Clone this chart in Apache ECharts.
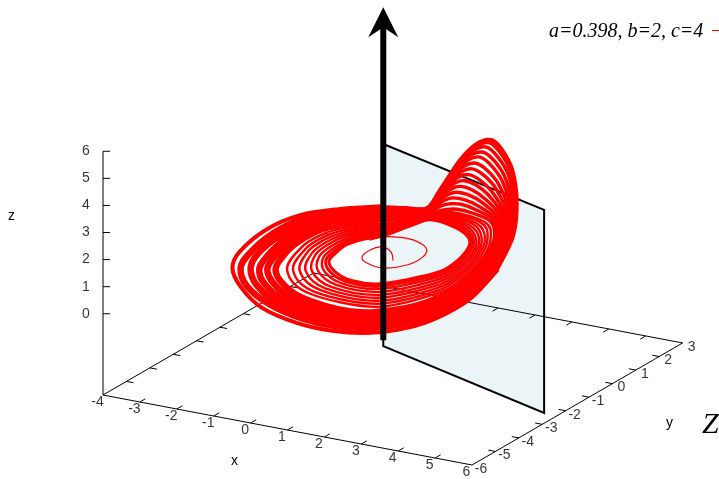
<!DOCTYPE html>
<html><head><meta charset="utf-8">
<style>html,body{margin:0;padding:0;background:#fff}#c{width:719px;height:479px}</style>
<script src="https://cdn.jsdelivr.net/npm/echarts@6/dist/echarts.min.js"></script>
</head><body><div id="c"></div>
<script>
// axis ticks (data units)
const xTicks=[-4,-3,-2,-1,0,1,2,3,4,5,6];
const yTicks=[-6,-5,-4,-3,-2,-1,0,1,2,3];
const zTicks=[0,1,2,3,4,5,6];
const caption='a=0.398, b=2, c=4';

// annotation: section plane and z arrow, in data units
const planeCorners=[[0,-0.33,-3],[5.64,-2.35,-3],[5.64,-2.35,4.5],[0,-0.33,4.46]];
const arrowFoot=[0,-0.33,-2.78];
const arrowTop=[0,-0.33,8.85];
const arrowHead=[0,-0.33,8.96];

// first orbits from the start near the fixed point [x,y,z]
const startSpiral=[[.22,-.26,.2],[-.11,.17,.2],[-.47,.35,.2],[-.60,.06,.2],[-.52,-.42,.2],[-.21,-.70,.2],[.29,-.81,.2],[.68,-.39,.2],[.72,.23,.2],[.47,.76,.2],[-.08,1.07,.2],[-.51,1.06,.2],[-.80,.92,.2],[-.96,.61,.2]];

// inner orbits (stay low), one shared height profile
const innerZ=[0,0,.2,.5,.8,1,1.1,.9,.7,.6,.5,.4,.3,.2,.1,0];
const innerX=[
[.60,1.33,1.58,1.60,1.51,1.06,.43,.07,-.26,-.49,-.85,-1.08,-1.11,-1.04,-.64,-.10],
[.67,1.41,1.65,1.67,1.56,1.11,.44,.06,-.29,-.53,-.89,-1.15,-1.21,-1.15,-.75,-.15],
[.76,1.50,1.74,1.75,1.62,1.17,.46,.04,-.32,-.57,-.93,-1.23,-1.32,-1.27,-.87,-.20],
[.85,1.59,1.83,1.84,1.68,1.23,.49,.03,-.36,-.62,-.98,-1.31,-1.44,-1.41,-1.01,-.25],
[.95,1.69,1.92,1.92,1.75,1.30,.51,.02,-.39,-.67,-1.03,-1.40,-1.56,-1.55,-1.14,-.31],
[1.04,1.79,2.02,2.01,1.81,1.36,.53,0,-.43,-.72,-1.08,-1.48,-1.68,-1.68,-1.28,-.36],
[1.14,1.89,2.11,2.09,1.88,1.42,.55,-.01,-.46,-.76,-1.12,-1.57,-1.80,-1.82,-1.41,-.41],
[1.23,1.99,2.20,2.18,1.94,1.49,.57,-.02,-.50,-.81,-1.17,-1.65,-1.92,-1.95,-1.55,-.47],
[1.33,2.08,2.30,2.27,2.01,1.55,.60,-.04,-.53,-.86,-1.22,-1.74,-2.04,-2.09,-1.68,-.52]];
const innerY=[
[-1.42,-.30,.18,.79,.91,1.02,1.02,.94,.58,.31,.11,-.18,-.58,-1.01,-1.37,-1.53],
[-1.56,-.42,.09,.74,.93,1.08,1.09,.99,.65,.39,.21,-.09,-.50,-.97,-1.42,-1.65],
[-1.71,-.55,0,.69,.95,1.15,1.17,1.05,.72,.48,.32,.01,-.41,-.91,-1.47,-1.79],
[-1.88,-.69,-.11,.63,.97,1.22,1.25,1.12,.80,.57,.44,.12,-.31,-.85,-1.52,-1.94],
[-2.05,-.84,-.21,.56,1.0,1.29,1.33,1.19,.88,.67,.56,.23,-.21,-.79,-1.58,-2.09],
[-2.22,-.98,-.32,.50,1.02,1.37,1.42,1.26,.96,.77,.69,.35,-.11,-.73,-1.63,-2.24],
[-2.39,-1.12,-.42,.44,1.05,1.44,1.50,1.32,1.04,.87,.81,.46,-.01,-.67,-1.68,-2.39],
[-2.56,-1.27,-.53,.38,1.07,1.52,1.59,1.39,1.11,.97,.93,.57,.09,-.61,-1.74,-2.54],
[-2.74,-1.41,-.64,.32,1.09,1.59,1.67,1.46,1.19,1.06,1.05,.68,.19,-.55,-1.79,-2.69]];

// dense outer orbits along top, left and bottom of the disk
const outerZ=[.8,.5,.3,.2,.1,.1,0,0,0,0,0,0,.1,.4,.9];
const outerX=[
[-1.02,-1.81,-2.26,-2.34,-2.22,-1.93,-1.43,-.62,.25,.94,1.50,2.00,2.36,2.66,2.80],
[-1.08,-1.92,-2.41,-2.52,-2.41,-2.11,-1.57,-.69,.25,1.0,1.61,2.14,2.49,2.79,2.91],
[-1.15,-2.04,-2.57,-2.70,-2.59,-2.29,-1.72,-.76,.25,1.07,1.73,2.27,2.63,2.93,3.03],
[-1.21,-2.16,-2.73,-2.95,-2.85,-2.48,-1.86,-.83,.25,1.14,1.85,2.40,2.76,3.06,3.14],
[-1.26,-2.28,-2.96,-3.17,-3.05,-2.70,-2.03,-.90,.25,1.20,1.97,2.54,2.90,3.19,3.25],
[-1.35,-2.43,-3.17,-3.44,-3.30,-2.87,-2.12,-.99,.25,1.28,2.12,2.70,3.06,3.35,3.38]];
const outerY=[
[.82,.73,.37,-.45,-1.19,-1.89,-2.40,-2.96,-3.22,-3.26,-3.05,-2.48,-1.83,-1.13,-.39],
[.99,.88,.50,-.37,-1.19,-1.96,-2.53,-3.16,-3.46,-3.50,-3.28,-2.69,-2.03,-1.28,-.47],
[1.15,1.03,.64,-.29,-1.19,-2.02,-2.67,-3.35,-3.70,-3.75,-3.51,-2.90,-2.22,-1.42,-.54],
[1.32,1.18,.77,-.17,-1.21,-2.09,-2.80,-3.55,-3.93,-3.99,-3.74,-3.11,-2.42,-1.57,-.62],
[1.46,1.33,.93,-.03,-1.22,-2.17,-2.95,-3.74,-4.17,-4.24,-3.97,-3.32,-2.61,-1.71,-.69],
[1.69,1.51,1.08,.12,-1.26,-2.25,-3.07,-3.98,-4.46,-4.53,-4.25,-3.58,-2.86,-1.89,-.79]];
const outerWidths=[6.5,6.5,6.5,6.5,6.5,4];

// arcs that climb into the z lobe, one shared x profile
const lobeX=[3.0,3.2,3.1,2.9,2.7,2.5,2.2,1.8,1.4,1.0,.2,-.8];
const lobeY=[
[-.21,.16,.49,.62,.51,.35,.19,.10,-.12,-.04,.28,.79],
[-.23,.13,.44,.55,.43,.27,.13,.05,-.14,-.04,.28,.77],
[-.26,.08,.37,.44,.30,.14,.03,-.01,-.17,-.05,.28,.75],
[-.30,.02,.29,.31,.16,0,-.09,-.09,-.20,-.05,.28,.73],
[-.34,-.03,.21,.18,.02,-.14,-.21,-.17,-.23,-.06,.28,.71],
[-.38,-.10,.12,.03,-.15,-.31,-.34,-.26,-.26,-.07,.28,.68],
[-.43,-.17,.02,-.11,-.31,-.47,-.47,-.35,-.29,-.07,.28,.65],
[-.47,-.23,-.07,-.26,-.47,-.63,-.61,-.43,-.33,-.08,.28,.62],
[-.52,-.30,-.16,-.41,-.64,-.80,-.74,-.52,-.36,-.09,.28,.60],
[-.56,-.36,-.25,-.56,-.80,-.96,-.88,-.61,-.39,-.09,.28,.57],
[-.61,-.43,-.35,-.70,-.97,-1.13,-1.01,-.70,-.43,-.10,.28,.54],
[-.65,-.49,-.44,-.85,-1.13,-1.29,-1.14,-.79,-.46,-.10,.28,.51],
[-.70,-.56,-.53,-1.0,-1.29,-1.45,-1.28,-.88,-.49,-.11,.28,.49],
[-.74,-.63,-.63,-1.14,-1.46,-1.62,-1.41,-.97,-.53,-.12,.28,.46]];
const lobeZ=[
[.53,1.61,2.67,3.76,4.50,4.92,4.78,4.11,3.01,2.21,1.85,1.37],
[.55,1.63,2.66,3.73,4.45,4.86,4.71,4.05,2.98,2.20,1.83,1.35],
[.59,1.65,2.66,3.69,4.37,4.76,4.61,3.96,2.94,2.18,1.80,1.33],
[.64,1.68,2.65,3.64,4.29,4.64,4.49,3.86,2.89,2.17,1.78,1.30],
[.68,1.70,2.64,3.59,4.20,4.53,4.36,3.76,2.84,2.15,1.75,1.28],
[.73,1.73,2.63,3.54,4.10,4.39,4.22,3.64,2.79,2.13,1.71,1.24],
[.79,1.76,2.62,3.48,4.01,4.26,4.08,3.53,2.73,2.11,1.68,1.21],
[.84,1.79,2.61,3.42,3.91,4.13,3.94,3.41,2.67,2.09,1.65,1.18],
[.89,1.82,2.60,3.37,3.81,3.99,3.80,3.30,2.62,2.07,1.62,1.15],
[.94,1.85,2.59,3.31,3.71,3.86,3.66,3.18,2.56,2.05,1.58,1.12],
[1.0,1.88,2.58,3.25,3.61,3.73,3.52,3.07,2.50,2.03,1.55,1.09],
[1.05,1.91,2.57,3.19,3.51,3.60,3.38,2.95,2.44,2.01,1.52,1.06],
[1.10,1.94,2.56,3.14,3.42,3.46,3.24,2.84,2.39,1.99,1.49,1.03],
[1.15,1.97,2.55,3.08,3.32,3.33,3.10,2.72,2.33,1.97,1.45,1.00]];

// view: maps (x,y,z) to the 2D plane of the hidden value axes
const project=([x,y,z])=>[391+36.9*x+23.4*y,260.4+7*x-13.56*y-27.08*z];
const xMin=-4,xMax=6,yMin=-6,yMax=3,zBase=-3,zTop=6;
const RED='#ff0000',INK='#000000',TXT='#000000';

const seg=(a,b)=>[project(a),project(b),['-','-']];
const off=([h,v],dh,dv)=>[h+dh,v+dv];
const tickSeg=(p,dh,dv)=>{const a=project(p);return [a,off(a,dh,dv),['-','-']];};

let frame=[];
frame=frame.concat(
  seg([xMin,yMin,zBase],[xMax,yMin,zBase]),
  seg([xMax,yMin,zBase],[xMax,yMax,zBase]),
  seg([xMax,yMax,zBase],[xMin,yMax,zBase]),
  seg([xMin,yMax,zBase],[xMin,yMin,zBase]),
  seg([xMin,yMin,zBase],[xMin,yMin,zTop]));
xTicks.slice(1,-1).forEach(v=>{
  frame=frame.concat(tickSeg([v,yMin,zBase],5.5,-3.2),tickSeg([v,yMax,zBase],-5.5,3.2));});
yTicks.slice(1,-1).forEach(v=>{
  frame=frame.concat(tickSeg([xMin,v,zBase],7,1.3),tickSeg([xMax,v,zBase],-7,-1.3));});
zTicks.forEach(v=>{frame=frame.concat(tickSeg([xMin,yMin,v],7,0));});

// smooth stroke through the orbit's points, placed by the axes' scales
const curvePath=(p,closed)=>{
  const n=p.length,at=i=>closed?p[(i+n)%n]:p[Math.max(0,Math.min(n-1,i))];
  let d='M'+p[0][0]+' '+p[0][1];
  for(let i=0;i<(closed?n:n-1);i++){
    const a=at(i-1),b=at(i),c=at(i+1),e=at(i+2);
    d+='C'+(b[0]+(c[0]-a[0])/6)+' '+(b[1]+(c[1]-a[1])/6)+' '+(c[0]-(e[0]-b[0])/6)+' '+(c[1]-(e[1]-b[1])/6)+' '+c[0]+' '+c[1];
  }
  return d+(closed?'Z':'');
};
const strand=(pts,w,name,closed)=>({type:'custom',name,coordinateSystem:'cartesian2d',silent:true,z:4,
  data:pts.map(project),clip:false,
  renderItem:(params,api)=>{
    if(params.dataIndex!==0)return null;
    const path=curvePath(pts.map(q=>api.coord(project(q))),closed);
    return {type:'path',shape:{pathData:path},style:{fill:'none',stroke:RED,lineWidth:w,lineCap:'round',lineJoin:'round'}};
  }});
const labels=(items,dx,dy,size)=>({type:'scatter',symbolSize:1,itemStyle:{color:'rgba(0,0,0,0)'},silent:true,z:6,
  data:items,label:{show:true,position:'inside',offset:[dx,dy],formatter:p=>p.value[2],color:TXT,
  fontFamily:'Liberation Sans',fontSize:size,align:'center',verticalAlign:'middle'}});

const series=[];
series.push({type:'custom',coordinateSystem:'cartesian2d',z:1,silent:true,data:[[0,0]],
  renderItem:(p,api)=>({type:'polygon',shape:{points:planeCorners.map(c=>api.coord(project(c)))},
    style:{fill:'#ebf4f6',stroke:INK,lineWidth:2}})});
series.push({type:'line',name:'axes',data:frame,showSymbol:false,symbol:'none',silent:true,z:2,connectNulls:false,
  lineStyle:{color:INK,width:1}});
outerX.forEach((xs,i)=>series.push(strand(xs.map((x,k)=>[x,outerY[i][k],outerZ[k]]),outerWidths[i],'outer'+i,false)));
lobeY.forEach((ys,i)=>series.push(strand(ys.map((y,k)=>[lobeX[k],y,lobeZ[i][k]]),i<2?3.8:3.4,'lobe'+i,false)));
innerX.forEach((xs,i)=>series.push(strand(xs.map((x,k)=>[x,innerY[i][k],innerZ[k]]),i<2?3:2.4,'inner'+i,true)));
series.push(strand(startSpiral,1.2,'start',false));
series.push({type:'line',name:'arrow',data:[project(arrowFoot),project(arrowTop)],showSymbol:false,symbol:'none',silent:true,z:5,
  lineStyle:{color:INK,width:6,cap:'butt'}});
series.push({type:'scatter',name:'arrowhead',silent:true,z:5,data:[project(arrowHead)],
  symbol:'path://M15 0 L30 30 L15 20 L0 30 Z',symbolSize:[30,30],itemStyle:{color:INK,opacity:1}});
series.push(labels(zTicks.map(v=>[...project([xMin,yMin,v]),String(v)]),-17,0,14));
series.push(labels(xTicks.map(v=>[...project([v,yMin,zBase]),String(v)]),-5.5,7,14));
series.push(labels(yTicks.map(v=>[...project([xMax,v,zBase]),String(v)]),9,4,14));

const chart=echarts.init(document.getElementById('c'),null,{renderer:'canvas'});
chart.setOption({
  animation:false,backgroundColor:'#fff',
  grid:{left:0,right:0,top:0,bottom:0},
  xAxis:{type:'value',min:0,max:719,show:false},
  yAxis:{type:'value',min:0,max:479,inverse:true,show:false},
  tooltip:{show:false},
  series,
  graphic:[
    {type:'text',left:8,top:209,style:{text:'z',font:'14px "Liberation Sans"',fill:TXT}},
    {type:'text',left:231,top:454,style:{text:'x',font:'14px "Liberation Sans"',fill:TXT}},
    {type:'text',left:666,top:416,style:{text:'y',font:'14px "Liberation Sans"',fill:TXT}},
    {type:'text',left:549,top:22,style:{text:caption,font:'italic 20px "Liberation Serif"',fill:TXT}},
    {type:'line',shape:{x1:712,y1:30.5,x2:719,y2:30.5},style:{stroke:RED,lineWidth:1}},
    {type:'text',left:702,top:410,style:{text:'Z',font:'italic 30px "Liberation Serif"',fill:TXT}}
  ]
});
</script></body></html>
